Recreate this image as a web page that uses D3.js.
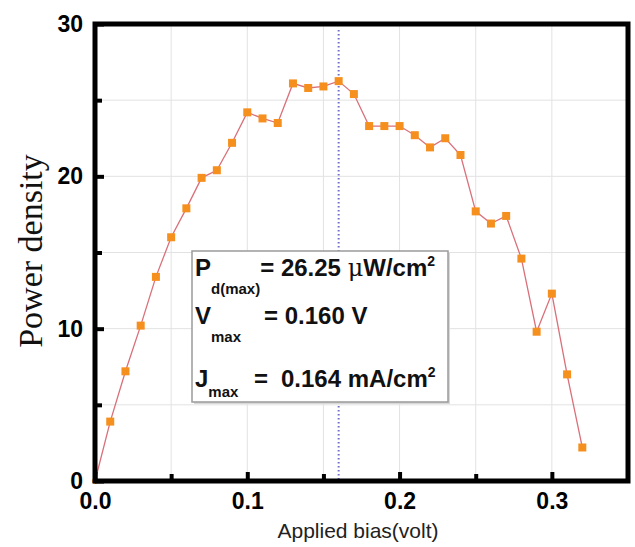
<!DOCTYPE html>
<html>
<head>
<meta charset="utf-8">
<script src="https://cdn.jsdelivr.net/npm/d3@7"></script>
<style>
  html, body { margin: 0; padding: 0; background: #fff; }
  svg { display: block; }
</style>
</head>
<body>
<div id="chart"></div>
<script>
const bias = [0.00, 0.01, 0.02, 0.03, 0.04, 0.05, 0.06, 0.07, 0.08, 0.09, 0.10,
  0.11, 0.12, 0.13, 0.14, 0.15, 0.16, 0.17, 0.18, 0.19, 0.20, 0.21, 0.22,
  0.23, 0.24, 0.25, 0.26, 0.27, 0.28, 0.29, 0.30, 0.31, 0.32];
const power = [0, 3.9, 7.2, 10.2, 13.4, 16.0, 17.9, 19.9, 20.4, 22.2, 24.2,
  23.8, 23.5, 26.1, 25.8, 25.9, 26.25, 25.4, 23.3, 23.3, 23.3, 22.7, 21.9,
  22.5, 21.4, 17.7, 16.9, 17.4, 14.6, 9.8, 12.3, 7.0, 2.2];
const xMajor = [0, 0.1, 0.2, 0.3];
const xMinor = [0.05, 0.15, 0.25];
const yMajor = [0, 10, 20, 30];
const yMinor = [5, 15, 25];
const vMax = 0.16;

const W = 635, H = 547;
const m = {left: 95, top: 24, right: 7, bottom: 66};

const svg = d3.select('#chart').append('svg')
  .attr('width', W).attr('height', H)
  .attr('viewBox', `0 0 ${W} ${H}`);

const x = d3.scaleLinear().domain([0, 0.35]).range([m.left, W - m.right]);
const y = d3.scaleLinear().domain([0, 30]).range([H - m.bottom, m.top]);

// grid
const grid = svg.append('g').attr('stroke', '#e2e2e2').attr('stroke-width', 1);
grid.selectAll('line.v').data(xMajor.concat(xMinor).filter(d => d > 0))
  .enter().append('line').attr('class', 'v')
  .attr('x1', d => x(d)).attr('x2', d => x(d))
  .attr('y1', y(0)).attr('y2', y(30));
grid.selectAll('line.h').data(yMajor.concat(yMinor).filter(d => d > 0 && d < 30))
  .enter().append('line').attr('class', 'h')
  .attr('y1', d => y(d)).attr('y2', d => y(d))
  .attr('x1', x(0)).attr('x2', x(0.35));

// dotted line at Vmax
svg.append('line')
  .attr('x1', x(vMax)).attr('x2', x(vMax))
  .attr('y1', y(29.6)).attr('y2', y(0))
  .attr('stroke', '#7070cc').attr('stroke-width', 2)
  .attr('stroke-dasharray', '1.5,2.5');

// legend box
const box = svg.append('g');
box.append('rect').attr('x', 194).attr('y', 253).attr('width', 256).attr('height', 151)
  .attr('fill', '#d8d8d8');
box.append('rect').attr('x', 192).attr('y', 251).attr('width', 256).attr('height', 151)
  .attr('fill', '#fff').attr('stroke', '#9a9a9a').attr('stroke-width', 1.5);

const txt = box.append('g')
  .attr('font-family', 'Liberation Sans, Arial, sans-serif')
  .attr('font-weight', 'bold').attr('fill', '#111');

const t1 = txt.append('text').attr('x', 195).attr('y', 276).attr('font-size', 24);
t1.append('tspan').text('P');
t1.append('tspan').attr('font-size', 15).attr('dy', 18).text('d(max)');
t1.append('tspan').attr('dy', -18).text('= 26.25 ');
t1.append('tspan').attr('font-family', 'DejaVu Serif, serif').attr('font-weight', 'normal').text('μ');
t1.append('tspan').text('W/cm');
t1.append('tspan').attr('font-size', 14).attr('dy', -10).text('2');

const t2 = txt.append('text').attr('x', 195).attr('y', 324).attr('font-size', 24);
t2.append('tspan').text('V');
t2.append('tspan').attr('font-size', 15).attr('dy', 18).text('max');
t2.append('tspan').attr('x', 264).attr('dy', -18).text('= 0.160 V');

const t3 = txt.append('text').attr('x', 195).attr('y', 387).attr('font-size', 24);
t3.append('tspan').text('J');
t3.append('tspan').attr('font-size', 15).attr('dy', 10).text('max');
t3.append('tspan').attr('x', 254).attr('dy', -10).text('=');
t3.append('tspan').attr('x', 281).text('0.164 mA/cm');
t3.append('tspan').attr('font-size', 14).attr('dy', -10).text('2');

// data line and markers
svg.append('path')
  .datum(bias.map((b, i) => [b, power[i]]))
  .attr('fill', 'none').attr('stroke', '#d9707a').attr('stroke-width', 1.3)
  .attr('d', d3.line().x(d => x(d[0])).y(d => y(d[1])));

svg.append('g').selectAll('rect')
  .data(bias.map((b, i) => [b, power[i]]).filter(d => d[1] > 0))
  .enter().append('rect')
  .attr('x', d => x(d[0]) - 4).attr('y', d => y(d[1]) - 4)
  .attr('width', 8).attr('height', 8)
  .attr('fill', '#f5901e');
svg.append('circle').attr('cx', x(0)).attr('cy', y(0)).attr('r', 3).attr('fill', '#f5901e');

// frame
const x0 = x(0), x1 = x(0.35), y0 = y(0), y1 = y(30);
svg.append('path')
  .attr('d', `M${x0},${y1}H${x1}V${y0}H${x0}Z`)
  .attr('fill', 'none').attr('stroke', 'black').attr('stroke-width', 5)
  .attr('stroke-linejoin', 'miter');

// axes with inward ticks
svg.append('g').attr('transform', `translate(0,${y0})`)
  .call(d3.axisBottom(x).tickValues(xMajor).tickSize(-9).tickPadding(12).tickFormat(d3.format('.1f')));
svg.append('g').attr('transform', `translate(0,${y0})`)
  .call(d3.axisBottom(x).tickValues(xMinor).tickSize(-7).tickFormat(''));
svg.append('g').attr('transform', `translate(${x0},0)`)
  .call(d3.axisLeft(y).tickValues(yMajor).tickSize(-9).tickPadding(12).tickFormat(d3.format('d')));
svg.append('g').attr('transform', `translate(${x0},0)`)
  .call(d3.axisLeft(y).tickValues(yMinor).tickSize(-7).tickFormat(''));
svg.selectAll('.domain').remove();
svg.selectAll('.tick line').attr('stroke', 'black').attr('stroke-width', 4);
svg.selectAll('.tick text')
  .attr('font-family', 'Liberation Sans, Arial, sans-serif')
  .attr('font-weight', 'bold').attr('font-size', 23).attr('fill', '#000');

// axis titles
svg.append('text')
  .attr('x', 358).attr('y', 538).attr('text-anchor', 'middle')
  .attr('font-family', 'Liberation Sans, Arial, sans-serif').attr('font-size', 21)
  .attr('fill', '#222').text('Applied bias(volt)');

svg.append('text')
  .attr('transform', 'translate(42,251) rotate(-90)').attr('text-anchor', 'middle')
  .attr('font-family', 'Liberation Serif, Times New Roman, serif').attr('font-size', 34)
  .attr('fill', '#111').text('Power density');
</script>
</body>
</html>
